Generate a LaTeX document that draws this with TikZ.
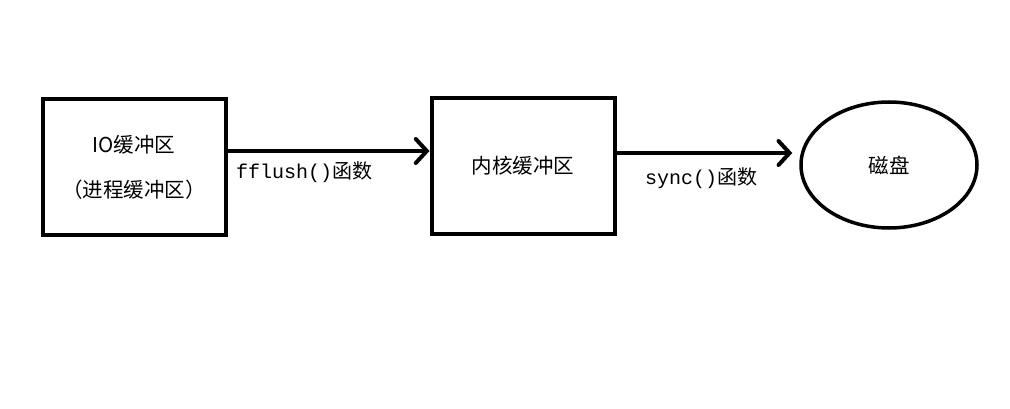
\documentclass[tikz,border=0pt]{standalone}
\usepackage{fontspec}
\setmainfont{Liberation Serif}
\newfontfamily\cjk{Noto Sans CJK SC}
\newfontfamily\mono{Liberation Mono}
\usetikzlibrary{arrows.meta,shapes.geometric}
\tikzset{
	buffer/.style={draw, line width=4pt, minimum width=183pt, minimum height=136pt, inner sep=0pt, align=center, font=\fontsize{20.5}{45}\selectfont\cjk},
	disk/.style={draw, ellipse, line width=3.5pt, minimum width=176pt, minimum height=126pt, inner sep=0pt, font=\fontsize{20.5}{22}\selectfont\cjk},
	flow/.style={line width=4pt, -{Straight Barb[length=11pt, width=24pt, line cap=round]}},
	call/.style={anchor=west, inner sep=0pt, font=\fontsize{20}{22}\selectfont}
}
\begin{document}
\begin{tikzpicture}[x=1pt, y=-1pt]
		%%%%% START %%%%%
		\useasboundingbox[fill=white] (0, 0) rectangle (1010, 409);
		
		\node[buffer] (io) at (134, 167) {IO缓冲区\\（进程缓冲区）};
		\node[buffer] (kern) at (523, 166) {内核缓冲区};
		\node[disk] (disk) at (889, 165) {磁盘};
		
		\draw[flow] (io.east |- 0, 151) -- (kern.west |- 0, 151);
		\draw[flow, shorten >=7pt] (kern.east |- 0, 153) -- (disk.west |- 0, 153);
		
		\node[call] (flushcall) at (236, 172) {{\mono fflush()}{\cjk 函数}};
		\node[call] (synccall) at (645, 178) {{\mono sync()}{\cjk 函数}};
		%%%%% END %%%%%
	\end{tikzpicture}
\end{document}
